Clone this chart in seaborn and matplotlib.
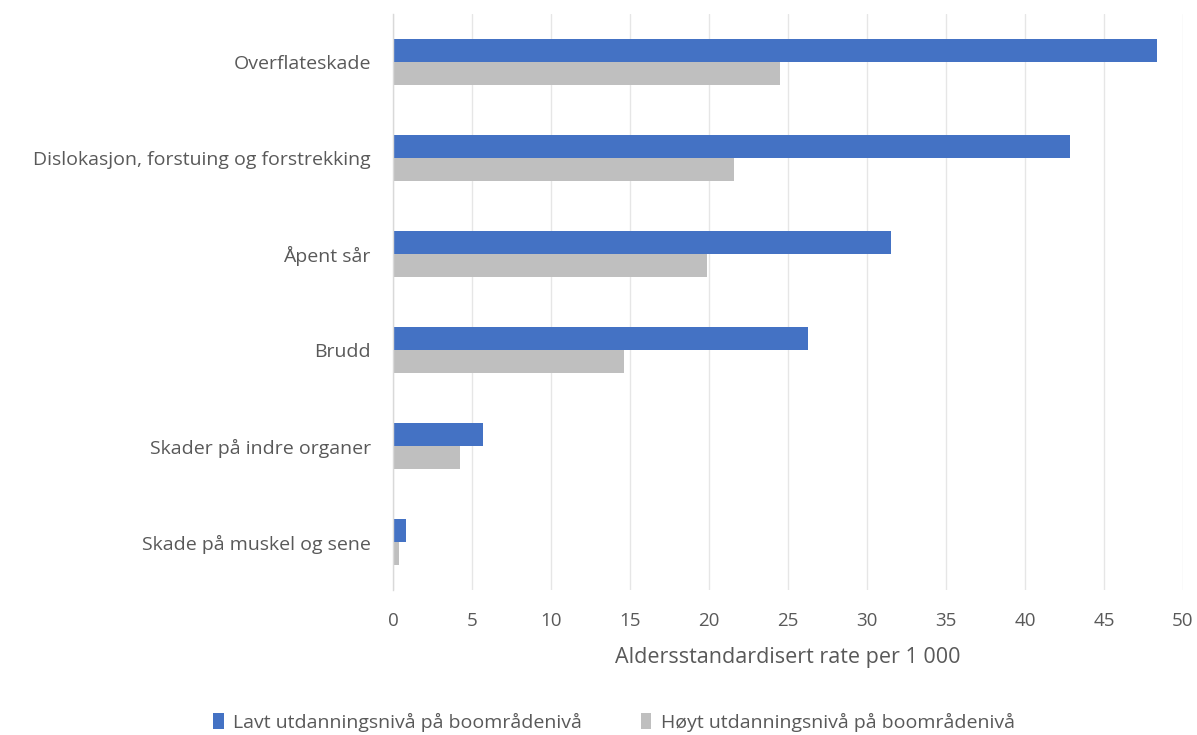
import matplotlib
matplotlib.use("Agg")
import matplotlib.pyplot as plt
import seaborn as sns
import pandas as pd

categories = [
    "Overflateskade",
    "Dislokasjon, forstuing og forstrekking",
    "Åpent sår",
    "Brudd",
    "Skader på indre organer",
    "Skade på muskel og sene",
]
series_names = [
    "Lavt utdanningsnivå på boområdenivå",
    "Høyt utdanningsnivå på boområdenivå",
]
lavt = [48.35, 42.85, 31.55, 26.25, 5.7, 0.8]
hoyt = [24.5, 21.6, 19.9, 14.65, 4.25, 0.35]
x_ticks = [0, 5, 10, 15, 20, 25, 30, 35, 40, 45, 50]
x_label = "Aldersstandardisert rate per 1 000"

df = pd.DataFrame({
    "kategori": categories * 2,
    "rate": lavt + hoyt,
    "gruppe": [series_names[0]] * len(categories) + [series_names[1]] * len(categories),
})

sns.set_theme(style="white")
plt.rcParams["font.family"] = ["Open Sans", "DejaVu Sans"]
text_color = "#595959"

fig = plt.figure(figsize=(11.97, 7.35), dpi=100)
ax = fig.add_axes([393 / 1197, 1 - 590 / 735, 790 / 1197, 576 / 735])

sns.barplot(
    data=df, y="kategori", x="rate", hue="gruppe", orient="h",
    order=categories, hue_order=series_names,
    palette=["#4472C4", "#BFBFBF"], width=0.48, gap=0,
    saturation=1, errorbar=None, ax=ax, legend=True, linewidth=0,
)

ax.set_xlim(0, 50)
ax.set_xticks(x_ticks)
ax.set_xticklabels([str(t) for t in x_ticks])
ax.set_ylim(len(categories) - 0.5, -0.5)
ax.grid(axis="x", color="#E6E6E6", linewidth=1)
ax.set_axisbelow(True)
for side in ["top", "right", "bottom"]:
    ax.spines[side].set_visible(False)
ax.spines["left"].set_color("#D9D9D9")
ax.spines["left"].set_linewidth(1)
ax.tick_params(axis="both", length=0, colors=text_color)
ax.tick_params(axis="y", pad=16, labelsize=14)
ax.tick_params(axis="x", pad=16, labelsize=13.5)
ax.set_ylabel("")
ax.set_xlabel(x_label, color=text_color, fontsize=15.5, labelpad=12)

handles, labels = ax.get_legend_handles_labels()
ax.get_legend().remove()
fig.legend(
    handles, labels, loc="center", bbox_to_anchor=(614 / 1197, 1 - 722 / 735),
    ncol=2, frameon=False, fontsize=14, labelcolor=text_color,
    handlelength=0.55, handleheight=0.9, handletextpad=0.5, columnspacing=3.0,
)

fig.savefig("out.png", dpi=100, facecolor="white")
